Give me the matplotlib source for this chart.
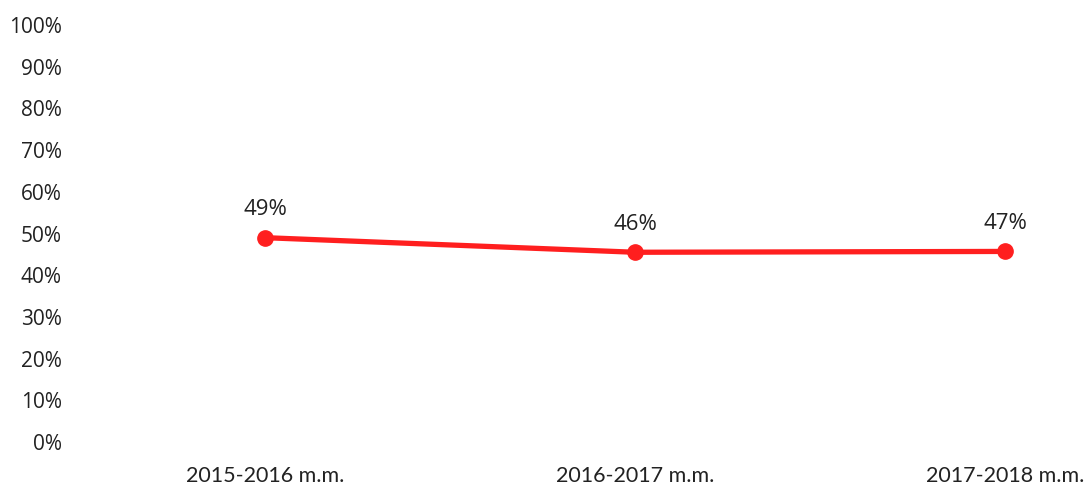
import matplotlib
matplotlib.use("Agg")
import matplotlib.pyplot as plt
from matplotlib.ticker import FixedLocator

categories = ["2015-2016 m.m.", "2016-2017 m.m.", "2017-2018 m.m."]
values = [0.49, 0.455, 0.457]
value_labels = ["49%", "46%", "47%"]
y_ticks = [i / 10 for i in range(11)]
y_tick_labels = [f"{i * 10}%" for i in range(11)]

W, H = 1085, 487
fig = plt.figure(figsize=(W / 100, H / 100), dpi=100)
ax = fig.add_axes([80 / W, (H - 442) / H, (W - 80) / W, 417 / H])

x = list(range(len(categories)))
ax.plot(x, values, color="#FF1F1F", lw=3.8, marker="o", ms=11,
        solid_capstyle="round", zorder=3)

for xi, v, lab in zip(x, values, value_labels):
    ax.annotate(lab, (xi, v), xytext=(0, 20), textcoords="offset points",
                ha="center", va="center", fontsize=16, color="#222222",
                family="Open Sans")

ax.set_xlim(-0.5, (W - 265) / 370)
ax.set_ylim(0, 1)
ax.yaxis.set_major_locator(FixedLocator(y_ticks))
ax.set_yticklabels(y_tick_labels, fontsize=15, color="#222222", family="Open Sans")
ax.set_xticks(x)
ax.set_xticklabels(categories, fontsize=15.5, color="#222222", family="Lato")
ax.tick_params(length=0, axis="y", pad=13)
ax.tick_params(length=0, axis="x", pad=17)
for s in ax.spines.values():
    s.set_visible(False)

fig.savefig("out.png", dpi=100, facecolor="white")
